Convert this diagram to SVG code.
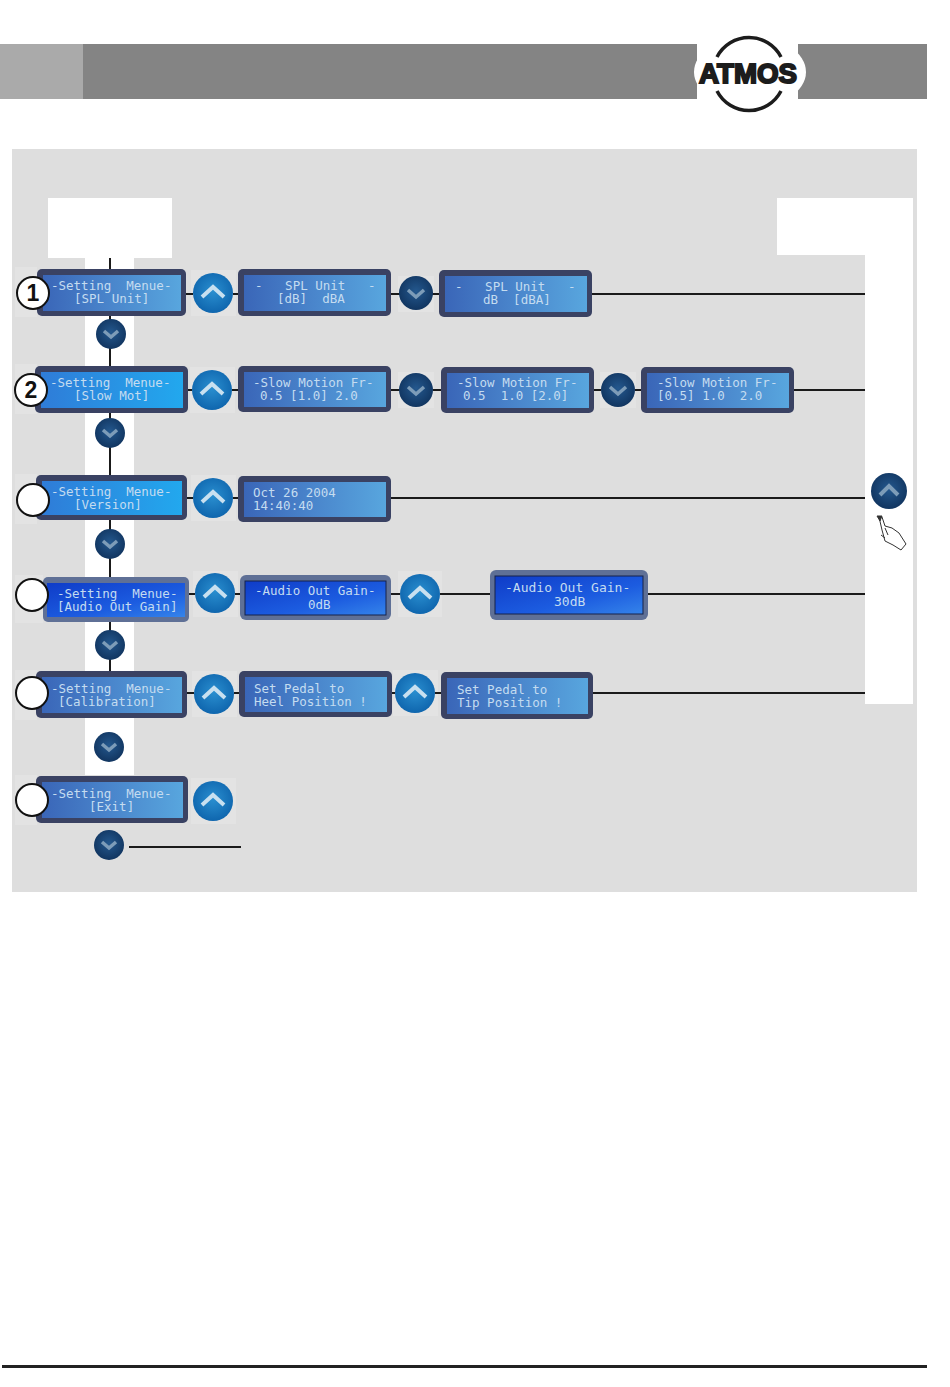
<svg xmlns="http://www.w3.org/2000/svg" width="950" height="1387" viewBox="0 0 950 1387">
<style>
.f{fill:#3a4263}
.f2{fill:#5f7096}
.t{font-family:"DejaVu Sans Mono","Liberation Mono",monospace;font-size:12.5px;fill:#c4dcf0;white-space:pre}
.w{fill:#fff}
.h{fill:#e3e3e3}
.c{stroke:#1a1a1a;stroke-width:2;fill:none}
.n{fill:#fff;stroke:#111;stroke-width:2}
.nt{font-family:"Liberation Sans",Arial,sans-serif;font-weight:700;font-size:23px;fill:#111;text-anchor:middle}
.chu{fill:none;stroke:#c8e0f0;stroke-width:4}
.chd{fill:none;stroke:#7d9cb8;stroke-width:3.5}
</style>
<defs>
<linearGradient id="a" x1="0" x2="1" y1="0" y2="0"><stop offset="0" stop-color="#3a66b8"/><stop offset="0.5" stop-color="#4a86cc"/><stop offset="1" stop-color="#58a6de"/></linearGradient>
<linearGradient id="b" x1="0" x2="1" y1="0" y2="0"><stop offset="0" stop-color="#2f7cd8"/><stop offset="1" stop-color="#22a8ee"/></linearGradient>
<linearGradient id="d" x1="0" x2="1" y1="0" y2="1"><stop offset="0" stop-color="#0f3cc8"/><stop offset="0.6" stop-color="#1c5ce0"/><stop offset="1" stop-color="#3584ea"/></linearGradient>
<radialGradient id="u" cx="0.5" cy="0.45" r="0.55"><stop offset="0" stop-color="#2a8fd0"/><stop offset="1" stop-color="#0f66ae"/></radialGradient>
<radialGradient id="v" cx="0.5" cy="0.45" r="0.55"><stop offset="0" stop-color="#24588e"/><stop offset="1" stop-color="#113560"/></radialGradient>
<g id="up"><circle r="20" fill="url(#u)"/><path class="chu" d="M-11 4L0-6L11 4"/></g>
<g id="dn"><circle r="15" fill="url(#v)"/><path class="chd" d="M-7-3L0 3L7-3"/></g>
<g id="dnl"><circle r="17" fill="url(#v)"/><path class="chd" d="M-8-3L0 4L8-3"/></g>
</defs>
<rect width="950" height="1387" fill="#fff"/>
<g id="header">
<rect x="0" y="44" width="83" height="55" fill="#aaaaaa"/>
<rect x="83" y="44" width="844" height="55" fill="#848484"/>
<rect x="697" y="40" width="101" height="62" class="w"/>
<ellipse cx="750" cy="72" rx="56" ry="36" class="w"/>
</g>
<g id="logo">
<path d="M717 57A36 36 0 0 1 781 57" fill="none" stroke="#1c1c1c" stroke-width="3.5"/>
<path d="M717 91A36 36 0 0 0 781 91" fill="none" stroke="#1c1c1c" stroke-width="3.5"/>
<text x="699" y="83" font-family="'Liberation Sans',Arial,sans-serif" font-weight="700" font-size="28" fill="#1c1c1c" stroke="#1c1c1c" stroke-width="2" textLength="98" lengthAdjust="spacingAndGlyphs">ATMOS</text>
</g>
<g id="panel">
<rect x="12" y="149" width="905" height="743" fill="#dedede"/>
<rect x="48" y="198" width="124" height="60" class="w"/>
<rect x="85" y="258" width="49" height="517" class="w"/>
<rect x="777" y="198" width="136" height="57" class="w"/>
<rect x="865" y="255" width="48" height="449" class="w"/>
<rect class="h" x="15" y="267" width="22" height="50"/><rect class="h" x="15" y="364" width="22" height="50"/><rect class="h" x="15" y="474" width="22" height="50"/><rect class="h" x="15" y="575" width="28" height="48"/><rect class="h" x="15" y="670" width="22" height="50"/><rect class="h" x="15" y="775" width="22" height="50"/>
<rect class="h" x="191" y="270" width="45" height="46"/><rect class="h" x="190" y="367" width="45" height="46"/><rect class="h" x="191" y="475" width="45" height="46"/><rect class="h" x="193" y="571" width="45" height="46"/><rect class="h" x="192" y="671" width="45" height="46"/><rect class="h" x="393" y="670" width="45" height="46"/><rect class="h" x="398" y="571" width="44" height="46"/><rect class="h" x="191" y="778" width="45" height="46"/>
<rect class="h" x="398" y="276" width="36" height="36"/><rect class="h" x="398" y="372" width="36" height="36"/><rect class="h" x="600" y="372" width="36" height="36"/>
</g>
<g id="connectors">
<path class="c" d="M110 258V269M110 316V366M110 413V475M110 520V577M110 622V671"/>
<path class="c" d="M186 294H193M233 294H238M391 294H400M432 294H439M592 294H865"/>
<path class="c" d="M188 390H192M232 390H238M391 390H400M433 390H441M594 390H601M635 390H641M794 390H865"/>
<path class="c" d="M187 498H193M233 498H238M391 498H865"/>
<path class="c" d="M189 594H195M235 594H240M391 594H400M440 594H490M648 594H865"/>
<path class="c" d="M187 693H194M234 693H239M392 693H395M435 693H441M593 693H865"/>
<path class="c" d="M129 847H241"/>
</g>
<g id="row1-menu"><rect class="f" x="37" y="269" width="149" height="47" rx="5"/><rect x="43" y="275" width="138" height="36" fill="url(#a)"/><text class="t" x="51" y="290">-Setting  Menue-</text><text class="t" x="74" y="303">[SPL Unit]</text></g>
<g id="row1-db"><rect class="f" x="238" y="269" width="153" height="47" rx="5"/><rect x="244" y="275" width="142" height="36" fill="url(#a)"/><text class="t" x="255" y="290">-   SPL Unit   -</text><text class="t" x="277" y="303">[dB]  dBA</text></g>
<g id="row1-dba"><rect class="f" x="439" y="270" width="153" height="47" rx="5"/><rect x="445" y="276" width="142" height="36" fill="url(#a)"/><text class="t" x="455" y="291">-   SPL Unit   -</text><text class="t" x="483" y="304">dB  [dBA]</text></g>
<g id="row2-menu"><rect class="f" x="35" y="366" width="153" height="47" rx="5"/><rect x="41" y="372" width="142" height="36" fill="url(#b)"/><text class="t" x="50" y="387">-Setting  Menue-</text><text class="t" x="74" y="400">[Slow Mot]</text></g>
<g id="row2-a"><rect class="f" x="238" y="366" width="153" height="46" rx="5"/><rect x="244" y="372" width="142" height="35" fill="url(#a)"/><text class="t" x="253" y="387">-Slow Motion Fr-</text><text class="t" x="260" y="400">0.5 [1.0] 2.0</text></g>
<g id="row2-b"><rect class="f" x="441" y="367" width="153" height="46" rx="5"/><rect x="447" y="373" width="142" height="35" fill="url(#a)"/><text class="t" x="457" y="387">-Slow Motion Fr-</text><text class="t" x="463" y="400">0.5  1.0 [2.0]</text></g>
<g id="row2-c"><rect class="f" x="641" y="367" width="153" height="46" rx="5"/><rect x="647" y="373" width="142" height="35" fill="url(#a)"/><text class="t" x="657" y="387">-Slow Motion Fr-</text><text class="t" x="657" y="400">[0.5] 1.0  2.0</text></g>
<g id="row3-menu"><rect class="f" x="36" y="475" width="151" height="45" rx="5"/><rect x="42" y="481" width="140" height="34" fill="url(#b)"/><text class="t" x="51" y="496">-Setting  Menue-</text><text class="t" x="74" y="509">[Version]</text></g>
<g id="row3-date"><rect class="f" x="238" y="476" width="153" height="46" rx="5"/><rect x="244" y="482" width="142" height="35" fill="url(#a)"/><text class="t" x="253" y="497">Oct 26 2004</text><text class="t" x="253" y="510">14:40:40</text></g>
<g id="row4-menu"><rect class="f2" x="43" y="577" width="146" height="45" rx="5"/><rect x="47" y="583" width="138" height="34" fill="url(#d)"/><text class="t" x="57" y="598">-Setting  Menue-</text><text class="t" x="57" y="611">[Audio Out Gain]</text></g>
<g id="row4-0db"><rect class="f2" x="240" y="575" width="151" height="45" rx="6"/><rect x="245" y="581" width="141" height="34" fill="url(#d)" stroke="#16224a"/><text class="t" x="255" y="595">-Audio Out Gain-</text><text class="t" x="308" y="609">0dB</text></g>
<g id="row4-30db"><rect class="f2" x="490" y="570" width="158" height="50" rx="6"/><rect x="495" y="576" width="148" height="38" fill="url(#d)" stroke="#16224a"/><text class="t" x="505" y="592" style="font-size:13px">-Audio Out Gain-</text><text class="t" x="554" y="606" style="font-size:13px">30dB</text></g>
<g id="row5-menu"><rect class="f" x="36" y="671" width="151" height="47" rx="5"/><rect x="42" y="677" width="140" height="36" fill="url(#a)"/><text class="t" x="51" y="693">-Setting  Menue-</text><text class="t" x="58" y="706">[Calibration]</text></g>
<g id="row5-heel"><rect class="f" x="239" y="671" width="153" height="46" rx="5"/><rect x="245" y="677" width="142" height="35" fill="url(#a)"/><text class="t" x="254" y="693">Set Pedal to</text><text class="t" x="254" y="706">Heel Position !</text></g>
<g id="row5-tip"><rect class="f" x="441" y="672" width="152" height="47" rx="5"/><rect x="447" y="678" width="141" height="36" fill="url(#a)"/><text class="t" x="457" y="694">Set Pedal to</text><text class="t" x="457" y="707">Tip Position !</text></g>
<g id="row6-menu"><rect class="f" x="36" y="776" width="152" height="47" rx="5"/><rect x="42" y="782" width="141" height="36" fill="url(#a)"/><text class="t" x="51" y="798">-Setting  Menue-</text><text class="t" x="89" y="811">[Exit]</text></g>
<g id="buttons-up">
<use href="#up" x="213" y="293"/><use href="#up" x="212" y="390"/><use href="#up" x="213" y="498"/><use href="#up" x="215" y="593"/><use href="#up" x="214" y="694"/><use href="#up" x="415" y="693"/><use href="#up" x="420" y="594"/><use href="#up" x="213" y="801"/>
</g>
<g id="buttons-down">
<use href="#dn" x="111" y="334"/><use href="#dn" x="110" y="433"/><use href="#dn" x="110" y="544"/><use href="#dn" x="110" y="645"/><use href="#dn" x="109" y="747"/><use href="#dn" x="109" y="845"/><use href="#dnl" x="416" y="293"/><use href="#dnl" x="416" y="390"/><use href="#dnl" x="618" y="390"/>
</g>
<g id="n1"><circle class="n" cx="33" cy="293" r="16"/><text class="nt" x="33" y="301">1</text></g>
<g id="n2"><circle class="n" cx="31" cy="390" r="16"/><text class="nt" x="31" y="398">2</text></g>
<g id="n3"><circle class="n" cx="33" cy="500" r="16"/></g>
<g id="n4"><circle class="n" cx="32" cy="595" r="16"/></g>
<g id="n5"><circle class="n" cx="32" cy="693" r="16"/></g>
<g id="n6"><circle class="n" cx="32" cy="800" r="16"/></g>
<g id="exit-button">
<circle cx="889" cy="491" r="18" fill="url(#v)"/><path d="M880 495L889 486L898 495" fill="none" stroke="#7d9cb8" stroke-width="4"/>
<g id="hand" fill="none" stroke="#333" stroke-width="1"><path d="M879 517L882 530L885 541L893 545L901 550L906 544L899 533L892 528L885 526L882 517"/><path d="M885 528L888 535M881 535L885 538"/><path d="M877 516l5 0l-2 5z" fill="#333"/></g>
</g>
<rect id="footer-rule" x="2" y="1365" width="925" height="3" fill="#222"/>
</svg>
